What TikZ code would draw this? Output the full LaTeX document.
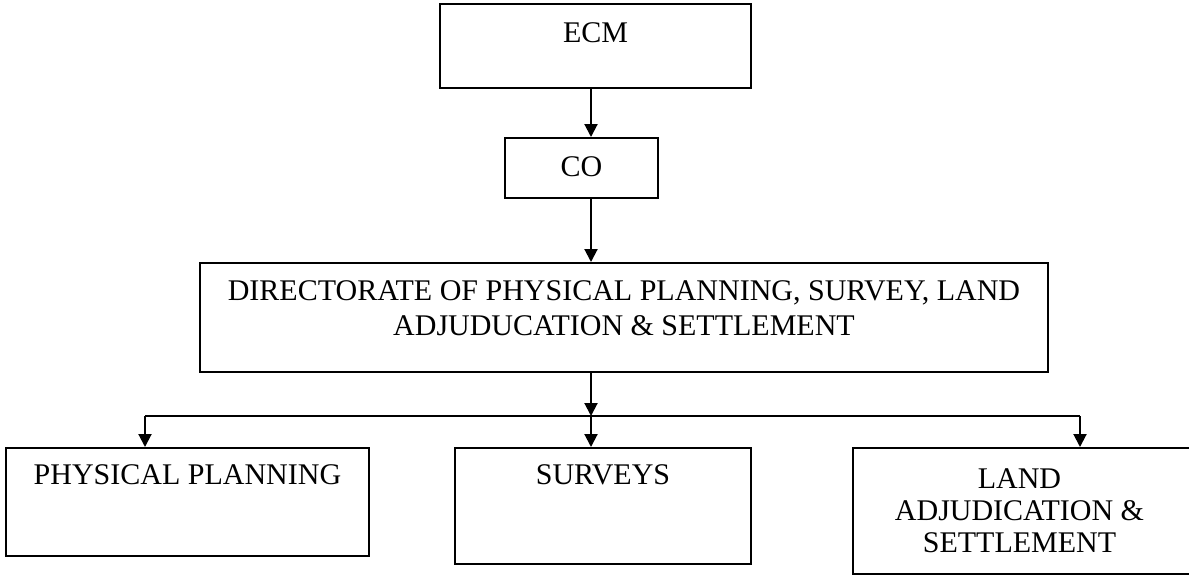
\documentclass[tikz,border=0pt]{standalone}
\usepackage{fontspec}
\setmainfont{Liberation Serif}
\usepackage{tikz}
\usetikzlibrary{arrows.meta,positioning}

\tikzset{
	box/.style={draw, line width=1pt, inner sep=0pt, anchor=north west},
	txt/.style={anchor=north, align=center, inner sep=0pt,
		font=\fontsize{15}{16}\selectfont},
	arr/.style={line width=1pt, -{Triangle[width=6.5pt,length=6.5pt]}}
}

\begin{document}
\begin{tikzpicture}[x=0.5pt, y=-0.5pt]
		\useasboundingbox (0,0) rectangle (1189,575);
		% top of the chart
		\node[box, minimum width=155.5pt, minimum height=42pt,
			label={[txt, yshift=-9.5pt]north:ECM}] (ecm) at (439,3) {};
		\node[box, minimum width=76.5pt, minimum height=30pt,
			label={[txt, yshift=-9.5pt]north:CO}] (co) at (504,137) {};
		\node[box, minimum width=424pt, minimum height=54.5pt,
			label={[txt, yshift=-9pt, font=\fontsize{15}{17.5}\selectfont]north:DIRECTORATE OF PHYSICAL PLANNING, SURVEY, LAND\\ADJUDUCATION \& SETTLEMENT}] (dir) at (199,262) {};
		% departments
		\node[box, minimum width=181.5pt, minimum height=54pt,
			label={[txt, yshift=-8.5pt]north:PHYSICAL PLANNING}] (pp) at (5,447) {};
		\node[box, minimum width=148pt, minimum height=58pt,
			label={[txt, yshift=-8.5pt]north:SURVEYS}] (sur) at (454,447) {};
		\node[box, minimum width=169.5pt, minimum height=63pt,
			label={[txt, yshift=-10.5pt, xshift=-1.5pt]north:LAND\\ADJUDICATION \&\\SETTLEMENT}] (land) at (852,447) {};
		% connectors
		\coordinate (spine) at (591,0);
		\coordinate (bus) at (591,416);
		\coordinate (ppin) at (145,447);
		\coordinate (landin) at (1080,447);
		\draw[arr] (ecm.south -| spine) -- (co.north -| spine);
		\draw[arr] (co.south -| spine) -- (dir.north -| spine);
		\draw[arr] (dir.south -| spine) -- (bus);
		\draw[line width=1pt] (ppin |- bus) -- (landin |- bus);
		\draw[arr] (ppin |- bus) -- (ppin);
		\draw[arr] (bus) -- (sur.north -| spine);
		\draw[arr] (landin |- bus) -- (landin);
\end{tikzpicture}
\end{document}
